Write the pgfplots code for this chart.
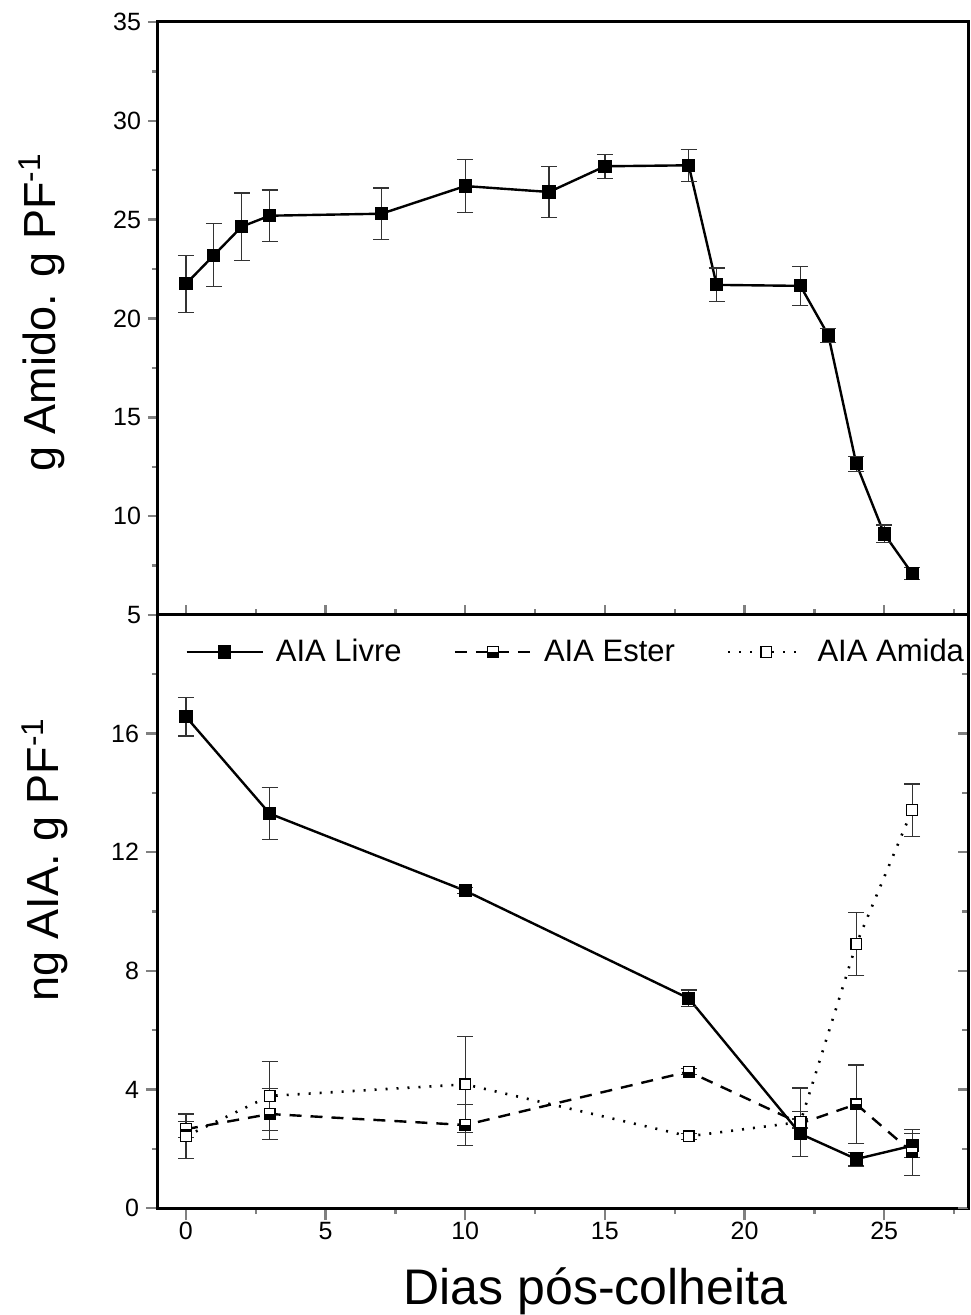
\documentclass[border=0pt]{standalone}
\usepackage{fontspec}
\setmainfont{Liberation Sans}
\usepackage{pgfplots}
\pgfplotsset{compat=1.18}

% square, lower half black, upper half white
\pgfdeclareplotmark{halfsquare}{%
  \pgfsetfillcolor{white}%
  \pgfpathrectangle{\pgfpoint{-\pgfplotmarksize}{-\pgfplotmarksize}}{\pgfpoint{2\pgfplotmarksize}{2\pgfplotmarksize}}%
  \pgfusepathqfill
  \pgfsetfillcolor{black}%
  \pgfpathrectangle{\pgfpoint{-\pgfplotmarksize}{-\pgfplotmarksize}}{\pgfpoint{2\pgfplotmarksize}{\pgfplotmarksize}}%
  \pgfusepathqfill
  \pgfpathrectangle{\pgfpoint{-\pgfplotmarksize}{-\pgfplotmarksize}}{\pgfpoint{2\pgfplotmarksize}{2\pgfplotmarksize}}%
  \pgfusepathqstroke
}

\pgfplotsset{
  panel/.style={
    width=405pt, height=296.5pt, scale only axis,
    xmin=-1, xmax=28,
    xtick={0,5,...,25}, minor xtick={2.5,7.5,...,27.5},
    axis line style={line width=1.5pt},
    major tick style={line width=1.2pt},
    minor tick style={line width=1.2pt},
    major tick length=5pt, minor tick length=3pt,
    tick label style={font=\fontsize{12.5}{14}\selectfont},
    /pgf/number format/assume math mode=true,
  },
  ebars/.style={
    error bars/.cd, y dir=both, y explicit,
    error bar style={solid, line width=0.6pt, black!80},
    error mark options={solid, rotate=90, mark size=4pt, line width=0.6pt, black!80},
  },
}

\pgfplotstableread{
x y e
0 21.75 1.45
1 23.2 1.6
2 24.65 1.7
3 25.2 1.3
7 25.3 1.3
10 26.7 1.35
13 26.4 1.3
15 27.7 0.6
18 27.75 0.8
19 21.7 0.85
22 21.65 1.0
23 19.15 0.35
24 12.65 0.38
25 9.1 0.45
26 7.1 0.32
}\amido

\pgfplotstableread{
x y e
0 16.57 0.65
3 13.3 0.87
10 10.7 0.1
18 7.07 0.28
22 2.5 0.75
24 1.65 0.23
26 2.1 0.4
}\livre

\pgfplotstableread{
x y e
0 2.66 0.27
3 3.17 0.85
10 2.8 0.69
18 4.6 0.1
22 2.85 0.15
24 3.5 1.32
26 1.88 0.78
}\ester

\pgfplotstableread{
x y e
0 2.42 0.75
3 3.78 1.17
10 4.17 1.62
18 2.42 0.1
22 2.9 1.15
24 8.9 1.07
26 13.42 0.88
}\amida

\begin{document}
\begin{tikzpicture}
% ---------- top: starch ----------
\begin{axis}[panel,
  at={(0,0)}, anchor=south west,
  ymin=5, ymax=35,
  ytick={5,10,...,35}, minor ytick={7.5,12.5,...,32.5},
  xticklabels={},
  xtick pos=bottom, xtick align=inside,
  ytick pos=left, ytick align=outside,
  ylabel={g Amido. g PF\textsuperscript{-1}},
  every axis y label/.append style={font=\fontsize{22.5}{26}\selectfont,
    at={(axis description cs:-0.143,0.51)}, anchor=center},
]
\addplot[black, line width=1.2pt, mark=square*, mark size=2.7pt,
  mark options={solid, fill=black}, ebars]
  table[x=x, y=y, y error=e] {\amido};
\end{axis}

% ---------- bottom: IAA ----------
\begin{axis}[panel,
  at={(0,0)}, anchor=north west,
  ymin=0, ymax=20,
  ytick={0,4,...,16}, minor ytick={2,6,...,18},
  xtick pos=bottom, ytick pos=left, tick align=outside,
  major tick length=6pt,
  xticklabel style={yshift=2.5pt},
  xlabel={Dias pós-colheita},
  ylabel={ng AIA. g PF\textsuperscript{-1}},
  every axis y label/.append style={font=\fontsize{22.5}{26}\selectfont,
    at={(axis description cs:-0.14,0.587)}, anchor=center},
  every axis x label/.append style={font=\fontsize{25}{28}\selectfont,
    at={(axis description cs:0.54,-0.162)}, anchor=base},
  legend columns=3,
  legend style={
    at={(axis description cs:0.026,0.9376)}, anchor=west,
    draw=none, fill=none,
    font=\fontsize{15.5}{18}\selectfont,
    /tikz/every odd column/.append style={column sep=4pt},
    /tikz/every even column/.append style={column sep=24pt},
  },
  legend image code/.code={
    \draw[mark repeat=2, mark phase=2]
      plot coordinates {(0pt,0pt) (19pt,0pt) (38pt,0pt)};
  },
]
\addplot[black, line width=1.2pt, mark=square*, mark size=2.7pt,
  mark options={solid, fill=black}, ebars]
  table[x=x, y=y, y error=e] {\livre};
\addlegendentry{AIA Livre}

\addplot[black, line width=1.2pt, dash pattern=on 6pt off 4.5pt,
  mark=halfsquare, mark size=2.7pt,
  mark options={solid, line width=0.7pt}, ebars]
  table[x=x, y=y, y error=e] {\ester};
\addlegendentry{AIA Ester}

\addplot[black, line width=1.3pt, dash pattern=on 1pt off 4.5pt,
  mark=square*, mark size=2.7pt,
  mark options={solid, fill=white, line width=0.7pt}, ebars]
  table[x=x, y=y, y error=e] {\amida};
\addlegendentry{AIA Amida}
\end{axis}

% right-hand ticks of the bottom panel point inward
\begin{axis}[panel,
  at={(0,0)}, anchor=north west,
  ymin=0, ymax=20,
  ytick={0,4,...,16}, minor ytick={2,6,...,18},
  axis x line=none, axis y line*=right,
  tick align=inside, yticklabels={},
]
\end{axis}

\pgfresetboundingbox
\path[use as bounding box] (-79pt,-350pt) rectangle (406pt,307.5pt);
\end{tikzpicture}
\end{document}
